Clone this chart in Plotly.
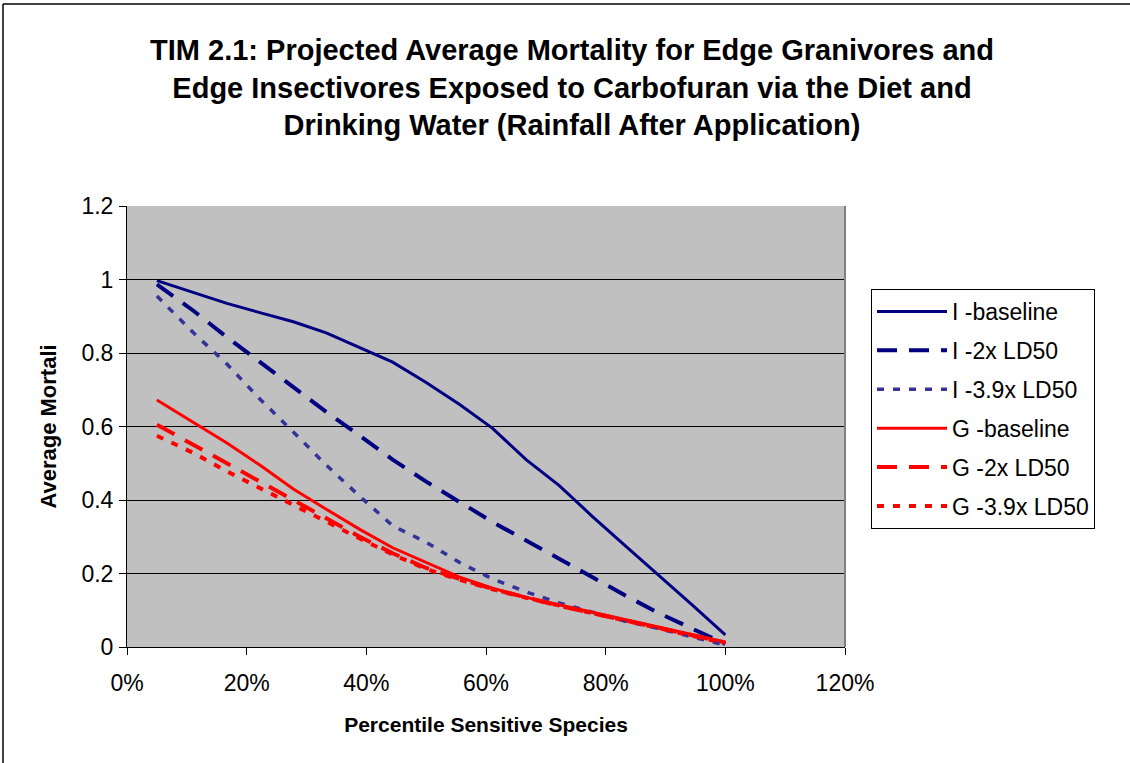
import plotly.graph_objects as go

# Percentile of sensitive species (fraction)
pct = [0.05, 0.111, 0.167, 0.222, 0.278, 0.333, 0.389, 0.444, 0.50, 0.556,
       0.611, 0.667, 0.722, 0.778, 0.833, 0.889, 0.944, 1.00]

i_baseline = [0.997, 0.965, 0.935, 0.91, 0.885, 0.855, 0.815, 0.775, 0.72, 0.66,
              0.595, 0.51, 0.44, 0.355, 0.275, 0.195, 0.115, 0.033]
i_2x = [0.987, 0.915, 0.843, 0.775, 0.705, 0.64, 0.575, 0.51, 0.45, 0.395,
        0.34, 0.29, 0.24, 0.19, 0.14, 0.092, 0.05, 0.008]
i_39x = [0.955, 0.855, 0.77, 0.675, 0.585, 0.495, 0.41, 0.33, 0.285, 0.23,
         0.185, 0.15, 0.12, 0.095, 0.07, 0.05, 0.028, 0.005]
g_baseline = [0.672, 0.612, 0.555, 0.495, 0.43, 0.375, 0.32, 0.27, 0.23, 0.19,
              0.16, 0.135, 0.115, 0.095, 0.075, 0.055, 0.035, 0.014]
g_2x = [0.605, 0.55, 0.5, 0.45, 0.4, 0.35, 0.3, 0.255, 0.215, 0.185,
        0.158, 0.135, 0.112, 0.092, 0.072, 0.053, 0.033, 0.012]
g_39x = [0.575, 0.528, 0.478, 0.432, 0.385, 0.34, 0.295, 0.252, 0.212, 0.183,
         0.157, 0.134, 0.112, 0.092, 0.072, 0.052, 0.032, 0.01]

series_names = ["I -baseline", "I -2x LD50", "I -3.9x LD50",
                "G -baseline", "G -2x LD50", "G -3.9x LD50"]
x_ticks = [0, 0.2, 0.4, 0.6, 0.8, 1.0, 1.2]
x_tick_labels = ["0%", "20%", "40%", "60%", "80%", "100%", "120%"]
y_ticks = [0, 0.2, 0.4, 0.6, 0.8, 1.0, 1.2]
y_tick_labels = ["0", "0.2", "0.4", "0.6", "0.8", "1", "1.2"]

styles = [
    dict(color="#000080", width=3, dash="solid"),
    dict(color="#000080", width=4, dash="20px,12px"),
    dict(color="#333399", width=3.5, dash="7px,9px"),
    dict(color="#FF0000", width=3, dash="solid"),
    dict(color="#FF0000", width=4, dash="20px,12px"),
    dict(color="#FF0000", width=4, dash="7px,9px"),
]
data = [i_baseline, i_2x, i_39x, g_baseline, g_2x, g_39x]

fig = go.Figure()
for name, ys, st in zip(series_names, data, styles):
    fig.add_trace(go.Scatter(x=pct, y=ys, mode="lines", name=name, line=st,
                             legendgroup=name))

font_family = "Liberation Sans, Arial, sans-serif"

L, R, T, B = 127, 845, 206, 647
W, H = 1130, 763


def px_to_paper_x(px):
    return (px - L) / (R - L)


def px_to_paper_y(py):
    return (B - py) / (B - T)


fig.update_layout(
    width=W, height=H,
    margin=dict(l=L, r=W - R, t=T, b=H - B, pad=0),
    paper_bgcolor="white",
    plot_bgcolor="#C0C0C0",
    font=dict(family=font_family, color="black", size=23),
    title=dict(
        text="<b>TIM 2.1: Projected Average Mortality for Edge Granivores and<br>"
             "Edge Insectivores Exposed to Carbofuran via the Diet and<br>"
             "Drinking Water (Rainfall After Application)</b>",
        x=572 / W, xanchor="center", xref="container",
        y=1 - 60 / H, yanchor="top", yref="container",
        font=dict(size=29, family=font_family, color="black"),
    ),
    showlegend=True,
    legend=dict(
        x=px_to_paper_x(871), xanchor="left",
        y=px_to_paper_y(289), yanchor="top",
        bgcolor="white", bordercolor="black", borderwidth=1,
        font=dict(size=23, family=font_family, color="black"),
        itemwidth=70, tracegroupgap=6,
    ),
    xaxis=dict(
        range=[0, 1.2], tickvals=x_ticks, ticktext=x_tick_labels,
        showgrid=False, zeroline=False, showline=True, linecolor="black",
        linewidth=1, ticks="outside", ticklen=7, tickcolor="black",
        ticklabelstandoff=8,
        tickfont=dict(size=23),
        title=dict(text="<b>Percentile Sensitive Species</b>",
                   font=dict(size=21), standoff=22),
    ),
    yaxis=dict(
        range=[0, 1.2], tickvals=y_ticks, ticktext=y_tick_labels,
        showgrid=True, gridcolor="black", gridwidth=1,
        zeroline=False, showline=True, linecolor="black",
        linewidth=1, ticks="outside", ticklen=7, tickcolor="black",
        ticklabelstandoff=1,
        tickfont=dict(size=23),
        title=dict(text="<b>Average Mortali</b>", font=dict(size=22),
                   standoff=18),
    ),
)

# plot area border (gray, right side)
fig.add_shape(type="line", xref="paper", yref="paper", x0=1, x1=1, y0=0, y1=1,
              line=dict(color="#808080", width=2))

# outer chart border (top and left)
fig.add_shape(type="line", xref="paper", yref="paper",
              x0=px_to_paper_x(3), x1=px_to_paper_x(W + 5),
              y0=px_to_paper_y(4), y1=px_to_paper_y(4),
              line=dict(color="black", width=1.5))
fig.add_shape(type="line", xref="paper", yref="paper",
              x0=px_to_paper_x(3), x1=px_to_paper_x(3),
              y0=px_to_paper_y(4), y1=px_to_paper_y(H + 5),
              line=dict(color="black", width=1.5))

fig.write_html("out.html")
